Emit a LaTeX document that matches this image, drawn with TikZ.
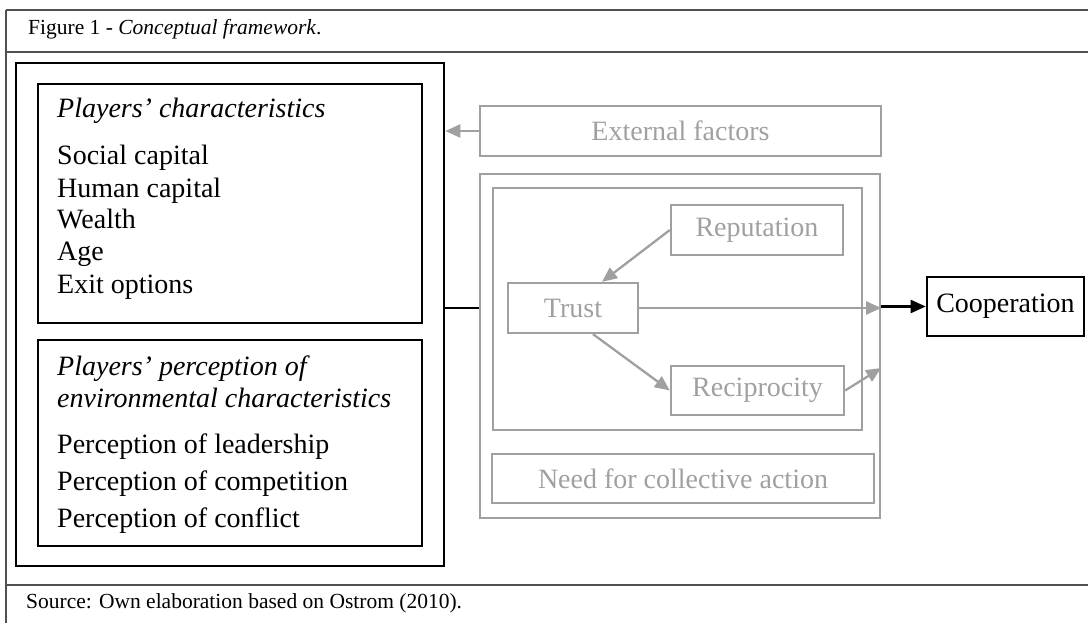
\documentclass[tikz,border=0pt]{standalone}
\usepackage{fontspec}
\setmainfont{Liberation Serif}
\usetikzlibrary{arrows.meta}
\definecolor{gline}{RGB}{160,160,160}
\definecolor{gtxt}{RGB}{160,160,160}
\definecolor{framec}{RGB}{80,80,80}
\tikzset{
  bbox/.style={draw=black,line width=2.6pt,rectangle,inner sep=0pt},
  gbox/.style={draw=gline,line width=2.3pt,rectangle,inner sep=0pt,text=gtxt,font=\fontsize{28}{32}\selectfont},
  cbox/.style={draw=black,line width=2.6pt,rectangle,inner sep=0pt,font=\fontsize{28}{32}\selectfont},
  txt/.style={anchor=base west,inner sep=0pt,font=\fontsize{28}{32}\selectfont},
  itxt/.style={anchor=base west,inner sep=0pt,font=\fontsize{28}{32}\selectfont\itshape},
  captxt/.style={anchor=base west,inner sep=0pt,font=\fontsize{21.5}{24}\selectfont},
  framel/.style={draw=framec,line width=1.5pt},
  garrow/.style={draw=gline,line width=2.3pt,-{Triangle[length=15pt,width=13pt]}},
  barrow/.style={draw=black,line width=2.3pt,-{Triangle[length=15pt,width=13pt]}},
  bline/.style={draw=black,line width=2.3pt}
}
\begin{document}
\begin{tikzpicture}[x=1pt,y=-1pt]
\useasboundingbox (0,0) rectangle (1088,623);
% frame
\draw[framel] (6,10) -- (1088,10);
\draw[framel] (6,52) -- (1088,52);
\draw[framel] (6,585) -- (1088,585);
\draw[framel] (6,10) -- (6,623);
\node[captxt] (cap) at (28,35) {Figure 1 - \textit{Conceptual framework}.};
\node[captxt] (src) at (26,608) {Source: Own elaboration based on Ostrom (2010).};
% left boxes
\node[bbox,minimum width=428pt,minimum height=503pt] (big) at (230,314.5) {};
\node[bbox,minimum width=384pt,minimum height=239pt] (pc) at (230,203.5) {};
\node[bbox,minimum width=384pt,minimum height=206pt] (pe) at (230,443) {};
\node[itxt] (pct) at (57,118) {Players’ characteristics};
\foreach \t [count=\i] in {Social capital,Human capital,Wealth,Age,Exit options}
  \node[txt] (pcl\i) at (57,{165+32*(\i-1)}) {\t};
\node[itxt] (pet1) at (57,375) {Players’ perception of};
\node[itxt] (pet2) at (57,407) {environmental characteristics};
\node[txt] (pel1) at (57,453) {Perception of leadership};
\node[txt] (pel2) at (57,490) {Perception of competition};
\node[txt] (pel3) at (57,527) {Perception of conflict};
% central gray boxes
\node[gbox,minimum width=401pt,minimum height=50pt] (ext) at (680.5,131) {External factors};
\node[gbox,minimum width=400pt,minimum height=344pt] (outerg) at (680,346) {};
\node[gbox,minimum width=369pt,minimum height=242pt] (innerg) at (677.5,309) {};
\node[gbox,minimum width=172pt,minimum height=50pt] (rep) at (757,230) {Reputation};
\node[gbox,minimum width=130pt,minimum height=50pt] (trust) at (573,308) {Trust};
\node[gbox,minimum width=173pt,minimum height=49pt] (recip) at (757.5,390.5) {Reciprocity};
\node[gbox,minimum width=382pt,minimum height=49pt] (need) at (683,478.5) {Need for collective action};
\node[cbox,minimum width=157pt,minimum height=59pt] (coop) at (1005.5,306.5) {Cooperation};
% connectors
\draw[garrow] (ext.west) -- (ext.west -| big.east);
\draw[bline] (big.east |- trust.east) -- (outerg.west |- trust.east);
\draw[garrow] (rep.west) -- ([xshift=29pt]trust.north);
\draw[garrow] (trust.east) -- (trust.east -| outerg.east);
\draw[garrow] ([xshift=20pt]trust.south) -- (recip.west);
\coordinate (rin) at (outerg.east |- 0,368);
\draw[garrow] (recip.east) -- (rin);
\draw[barrow] (outerg.east |- coop.west) -- (coop.west);
\end{tikzpicture}
\end{document}
